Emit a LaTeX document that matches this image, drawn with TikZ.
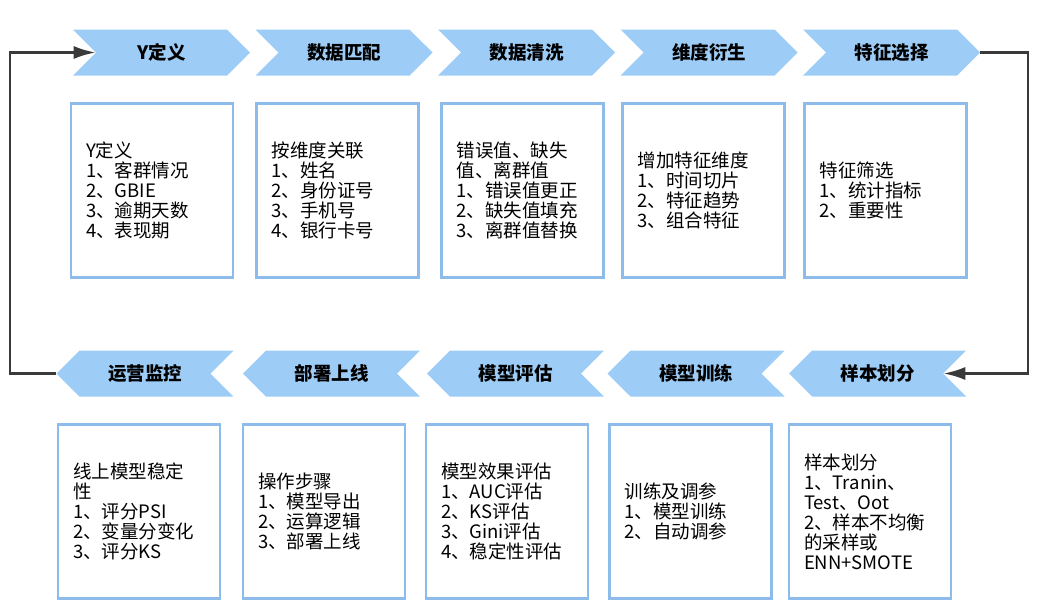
\documentclass[tikz,border=0pt]{standalone}
\usepackage{fontspec}
\setmainfont{Noto Sans CJK SC}
\usepackage{xcolor}
\usetikzlibrary{shapes.symbols, arrows.meta}

\definecolor{stepblue}{HTML}{9DCCF6}
\definecolor{boxblue}{HTML}{8DBBEA}
\definecolor{loopgray}{HTML}{3A3A3A}

\begin{document}
\begin{tikzpicture}[x=1pt, y=-1pt, every node/.style={font=\fontsize{18.5}{20}\selectfont}]
    \tikzset{stage/.style={signal, fill=stepblue, minimum width=177pt, minimum height=46pt,
                           inner sep=0pt, font=\fontsize{18.5}{20}\selectfont\bfseries},
             fwd/.style={stage, signal to=east, signal from=west},
             bwd/.style={stage, signal to=west, signal from=east},
             card/.style={draw=boxblue, line width=2.4pt, fill=white, minimum width=162pt,
                          minimum height=174pt, text width=132pt, align=left, inner sep=0pt},
             flow/.style={draw=loopgray, line width=2.6pt, -{Latex[length=22pt, width=13pt]}}}

    \useasboundingbox (0,0) rectangle (1037,611);

    % top row
    \node[fwd] (ydef)  at (161.5,52.5) {Y定义};
    \node[fwd] (match) at (344,52.5)   {数据匹配};
    \node[fwd] (clean) at (526.5,52.5) {数据清洗};
    \node[fwd] (deriv) at (709,52.5)   {维度衍生};
    \node[fwd] (sel)   at (891.5,52.5) {特征选择};

    \node[card] (ydefbox)  at (152,190.5)   {Y定义\\1、客群情况\\2、GBIE\\3、逾期天数\\4、表现期};
    \node[card] (matchbox) at (337.5,190.5) {按维度关联\\1、姓名\\2、身份证号\\3、手机号\\4、银行卡号};
    \node[card] (cleanbox) at (522.5,190.5) {错误值、缺失\\值、离群值\\1、错误值更正\\2、缺失值填充\\3、离群值替换};
    \node[card] (derivbox) at (703.5,190.5) {增加特征维度\\1、时间切片\\2、特征趋势\\3、组合特征};
    \node[card] (selbox)   at (885.5,190.5) {特征筛选\\1、统计指标\\2、重要性};

    % bottom row
    \node[bwd] (split) at (877.5,373.5) {样本划分};
    \node[bwd] (train) at (696,373.5)   {模型训练};
    \node[bwd] (eval)  at (515.5,373.5) {模型评估};
    \node[bwd] (dep)   at (331.5,373.5) {部署上线};
    \node[bwd] (mon)   at (145,373.5)   {运营监控};

    \node[card] (splitbox) at (870,511.5)   {样本划分\\1、Tranin、\\Test、Oot\\2、样本不均衡\\的采样或\\ENN+SMOTE};
    \node[card] (trainbox) at (690.5,511.5) {训练及调参\\1、模型训练\\2、自动调参};
    \node[card] (evalbox)  at (507,511.5)   {模型效果评估\\1、AUC评估\\2、KS评估\\3、Gini评估\\4、稳定性评估};
    \node[card] (depbox)   at (324,511.5)   {操作步骤\\1、模型导出\\2、运算逻辑\\3、部署上线};
    \node[card] (monbox)   at (139,511.5)   {线上模型稳定\\性\\1、评分PSI\\2、变量分变化\\3、评分KS};

    % loop back
    \coordinate (rturn) at (1028,373.5);
    \coordinate (lturn) at (10,52.5);
    \draw[flow] (sel.east) -| (rturn) -- (split.east);
    \draw[flow] (mon.west) -| (lturn) -- (ydef.west);
\end{tikzpicture}
\end{document}
